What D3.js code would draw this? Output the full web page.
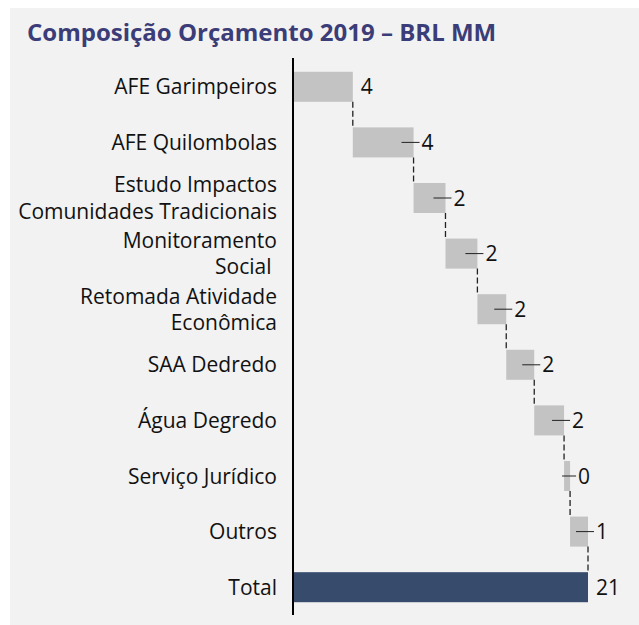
<!DOCTYPE html>
<html>
<head>
<meta charset="utf-8">
<script src="https://cdnjs.cloudflare.com/ajax/libs/d3/7.8.5/d3.min.js"></script>
<style>
  html, body { margin: 0; padding: 0; background: #ffffff; }
  svg { display: block; }
</style>
</head>
<body>
<div id="chart"></div>
<script>
// waterfall data, BRL MM
var categories = [
    ["AFE Garimpeiros"],
    ["AFE Quilombolas"],
    ["Estudo Impactos", "Comunidades Tradicionais"],
    ["Monitoramento", "Social "],
    ["Retomada Atividade", "Econômica"],
    ["SAA Dedredo"],
    ["Água Degredo"],
    ["Serviço Jurídico"],
    ["Outros"],
    ["Total"]
];
var values = [4.2, 4.34, 2.28, 2.28, 2.06, 2.0, 2.13, 0.43, 1.28];
var valueLabels = ["4", "4", "2", "2", "2", "2", "2", "0", "1", "21"];

var W = 639, H = 625;
var svg = d3.select("#chart").append("svg")
    .attr("width", W)
    .attr("height", H);

svg.append("rect")
    .attr("x", 10).attr("y", 8)
    .attr("width", W - 10).attr("height", H - 8)
    .attr("fill", "#f2f2f2");

svg.append("text")
    .attr("x", 27).attr("y", 41)
    .attr("font-family", "'Open Sans', sans-serif")
    .attr("font-weight", "bold")
    .attr("font-size", 24)
    .attr("fill", "#3b3d78")
    .text("Composição Orçamento 2019 – BRL MM");

// running totals
var rows = [];
var acc = 0;
values.forEach(function (v, i) {
    rows.push({ idx: i, start: acc, end: acc + v, total: false });
    acc += v;
});
rows.push({ idx: values.length, start: 0, end: acc, total: true });

var x = d3.scaleLinear().domain([0, acc]).range([294, 588]);
var y = d3.scaleBand()
    .domain(d3.range(categories.length))
    .range([59, 615])
    .paddingInner(0.46)
    .paddingOuter(0.23);

var g = svg.append("g");

g.selectAll("rect.bar")
    .data(rows)
    .enter().append("rect")
    .attr("class", "bar")
    .attr("x", function (d) { return x(d.start); })
    .attr("y", function (d) { return y(d.idx); })
    .attr("width", function (d) { return x(d.end) - x(d.start); })
    .attr("height", y.bandwidth())
    .attr("fill", function (d) { return d.total ? "#374b6c" : "#c3c3c3"; });

// dashed connectors
g.selectAll("line.conn")
    .data(rows.slice(0, rows.length - 1))
    .enter().append("line")
    .attr("class", "conn")
    .attr("x1", function (d) { return x(d.end); })
    .attr("x2", function (d) { return x(d.end); })
    .attr("y1", function (d) { return y(d.idx) + y.bandwidth(); })
    .attr("y2", function (d) { return y(d.idx + 1); })
    .attr("stroke", "#222")
    .attr("stroke-width", 1.3)
    .attr("stroke-dasharray", "6,3");

// small leader dashes
g.selectAll("line.lead")
    .data(rows.filter(function (d) { return d.idx > 0 && !d.total; }))
    .enter().append("line")
    .attr("class", "lead")
    .attr("x1", function (d) { return Math.max(x(d.end) - 12, x(d.start) - 2); })
    .attr("x2", function (d) { return x(d.end) + 6; })
    .attr("y1", function (d) { return y(d.idx) + y.bandwidth() / 2; })
    .attr("y2", function (d) { return y(d.idx) + y.bandwidth() / 2; })
    .attr("stroke", "#222")
    .attr("stroke-width", 1);

g.selectAll("text.val")
    .data(rows)
    .enter().append("text")
    .attr("class", "val")
    .attr("x", function (d) { return x(d.end) + 8; })
    .attr("y", function (d) { return y(d.idx) + y.bandwidth() / 2; })
    .attr("dy", "0.36em")
    .attr("font-family", "'Open Sans', sans-serif")
    .attr("font-size", 21)
    .attr("fill", "#111")
    .text(function (d, i) { return valueLabels[i]; });

// category labels
var lab = g.selectAll("text.cat")
    .data(categories)
    .enter().append("text")
    .attr("class", "cat")
    .attr("x", 277)
    .attr("y", function (d, i) { return y(i) + y.bandwidth() / 2; })
    .attr("text-anchor", "end")
    .attr("font-family", "'Open Sans', sans-serif")
    .attr("font-size", 21)
    .attr("fill", "#111");

lab.each(function (d) {
    var t = d3.select(this);
    var n = d.length;
    d.forEach(function (s, k) {
        t.append("tspan")
            .attr("x", 277)
            .attr("dy", k === 0 ? (0.36 - (n - 1) * 0.63) + "em" : "1.26em")
            .attr("xml:space", "preserve")
            .text(s);
    });
});

// axis line
svg.append("line")
    .attr("x1", 293).attr("x2", 293)
    .attr("y1", 58).attr("y2", 615)
    .attr("stroke", "#000")
    .attr("stroke-width", 2);
</script>
</body>
</html>
